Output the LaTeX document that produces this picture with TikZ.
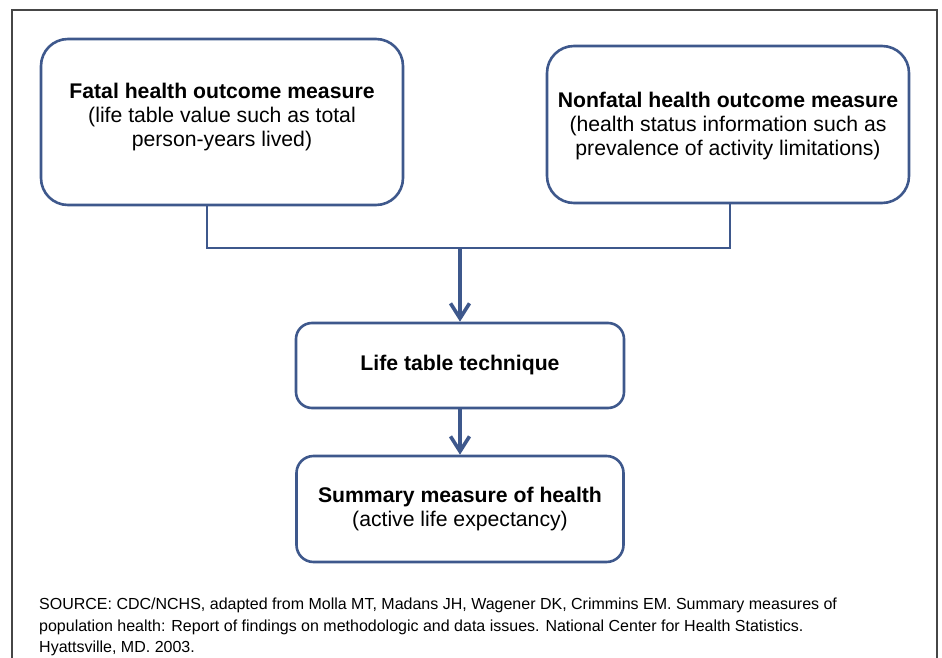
\documentclass[tikz,border=0pt]{standalone}
\usepackage{fontspec}
\setmainfont{Liberation Sans}
\usetikzlibrary{calc,arrows.meta}

\definecolor{boxblue}{RGB}{62,88,140}
\definecolor{framegray}{RGB}{70,70,70}

\tikzset{
  box/.style={draw=boxblue, line width=2.6pt, fill=white, align=center, inner sep=0pt,
    font=\fontsize{21.2}{24}\selectfont},
  link/.style={draw=boxblue, line width=2.6pt},
  flow/.style={draw=boxblue, line width=3.6pt, -{Straight Barb[length=15pt,width=19pt]}}
}

\begin{document}
\begin{tikzpicture}[x=1pt, y=-1pt]

\useasboundingbox (0,0) rectangle (942,658);

\draw[framegray, line width=1.4pt] (12,670) -- (12,10) -- (937,10) -- (937,670);

\node[box, rounded corners=27pt, minimum width=362pt, minimum height=166pt, text depth=15pt] (fatal) at (222,122)
  {\textbf{Fatal health outcome measure}\\(life table value such as total\\person-years lived)};

\node[box, rounded corners=27pt, minimum width=362pt, minimum height=157pt, text depth=2pt] (nonfatal) at (728,124.5)
  {\textbf{Nonfatal health outcome measure}\\(health status information such as\\prevalence of activity limitations)};

\node[box, rounded corners=16pt, minimum width=328pt, minimum height=85pt] (lifetable) at (460,365.5)
  {\textbf{Life table technique}};

\node[box, rounded corners=17pt, minimum width=327pt, minimum height=106pt] (summary) at (460,509)
  {\textbf{Summary measure of health}\\(active life expectancy)};

\coordinate (join) at (460,248);

\draw[link] ([xshift=-15pt]fatal.south) |- (join) -| ([xshift=2pt]nonfatal.south);

\draw[flow] (join) -- (lifetable.north);
\draw[flow] (lifetable.south) -- (summary.north);

\node[anchor=north west, align=left, inner sep=0pt, font=\fontsize{16}{21.5}\selectfont] (source) at (39,598)
  {SOURCE: CDC/NCHS, adapted from Molla MT, Madans JH, Wagener DK, Crimmins EM. Summary measures of\\
   population health: Report of findings on methodologic and data issues. National Center for Health Statistics.\\
   Hyattsville, MD. 2003.};

\end{tikzpicture}
\end{document}
